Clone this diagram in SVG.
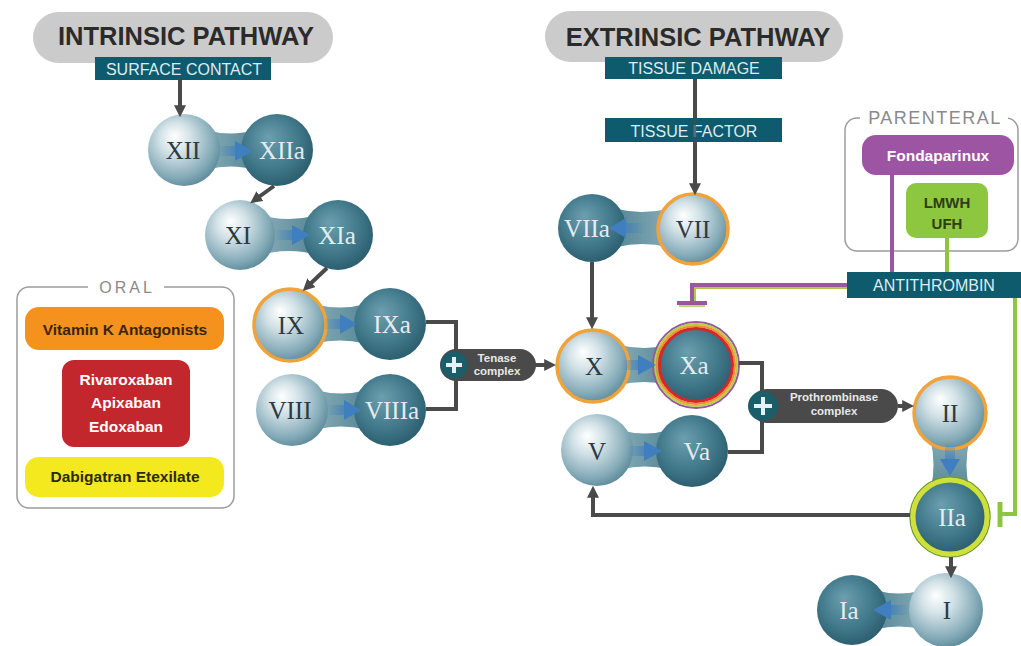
<svg xmlns="http://www.w3.org/2000/svg" width="1021" height="646" viewBox="0 0 1021 646">
<defs>
<radialGradient id="lb" cx="0.42" cy="0.4" r="0.62" fx="0.36" fy="0.3">
<stop offset="0" stop-color="#ffffff"/><stop offset="0.35" stop-color="#d3e2e7"/><stop offset="0.8" stop-color="#86acb9"/><stop offset="1" stop-color="#5f8d9c"/>
</radialGradient>
<radialGradient id="db" cx="0.45" cy="0.42" r="0.62" fx="0.38" fy="0.32">
<stop offset="0" stop-color="#6c9faf"/><stop offset="0.6" stop-color="#427a8b"/><stop offset="1" stop-color="#295b6c"/>
</radialGradient>
<linearGradient id="nLD" x1="0" y1="0" x2="1" y2="0"><stop offset="0" stop-color="#9dbcc6"/><stop offset="1" stop-color="#3f7687"/></linearGradient>
<linearGradient id="nDL" x1="0" y1="0" x2="1" y2="0"><stop offset="0" stop-color="#3f7687"/><stop offset="1" stop-color="#9dbcc6"/></linearGradient>
<linearGradient id="nTB" x1="0" y1="0" x2="0" y2="1"><stop offset="0" stop-color="#9dbcc6"/><stop offset="1" stop-color="#3f7687"/></linearGradient>
<linearGradient id="tR" x1="0" y1="0" x2="1" y2="0"><stop offset="0" stop-color="#3f7fbf" stop-opacity="0"/><stop offset="1" stop-color="#3f7fbf" stop-opacity="0.7"/></linearGradient>
<linearGradient id="tL" x1="0" y1="0" x2="1" y2="0"><stop offset="0" stop-color="#3f7fbf" stop-opacity="0.7"/><stop offset="1" stop-color="#3f7fbf" stop-opacity="0"/></linearGradient>
<linearGradient id="tD" x1="0" y1="0" x2="0" y2="1"><stop offset="0" stop-color="#3f7fbf" stop-opacity="0"/><stop offset="1" stop-color="#3f7fbf" stop-opacity="0.7"/></linearGradient>
<marker id="arr" viewBox="0 0 10 10" refX="4" refY="5" markerWidth="12" markerHeight="12" markerUnits="userSpaceOnUse" orient="auto">
<path d="M0,0 L10,5 L0,10 z" fill="#4a4a4a"/>
</marker>
<style>
.rn{font-family:"Liberation Serif",serif;font-size:25px;text-anchor:middle}
.lt{fill:#2c3b42}
.dk{fill:#e3ecef}
.tri{fill:#3f7fbf}
.conn{fill:none;stroke:#4a4a4a;stroke-width:4}
.box{fill:#0f5b6e}
.bt{font-family:"Liberation Sans",Arial,sans-serif;font-size:16px;fill:#dcecf1;text-anchor:middle}
.hd{font-family:"Liberation Sans",Arial,sans-serif;font-weight:bold;font-size:25.5px;fill:#2b2b2b;text-anchor:middle}
.pill{fill:#cbcbcb}
.ring{fill:none;stroke:#efa33a;stroke-width:3.5}
.drug{font-family:"Liberation Sans",Arial,sans-serif;font-weight:bold;font-size:15.5px;text-anchor:middle}
.cx{font-family:"Liberation Sans",Arial,sans-serif;font-weight:bold;font-size:11.5px;fill:#e8e8e8;text-anchor:middle}
.lab{font-family:"Liberation Sans",Arial,sans-serif;font-size:18px;fill:#8a8a8a;text-anchor:middle}
.frame{fill:none;stroke:#9c9c9c;stroke-width:1.5}
.cpill{fill:#4a4a4a}
.plusc{fill:#1c5d6a}
.plus{stroke:#e2f2f6;stroke-width:4;fill:none}
</style>
</defs>
<rect width="1021" height="646" fill="#ffffff"/>

<!-- headers -->
<g id="intrinsic">
<rect x="33" y="12" width="300" height="51" rx="25.5" class="pill"/>
<text x="186" y="45" class="hd">INTRINSIC PATHWAY</text>
</g>
<g id="extrinsic">
<rect x="545" y="11" width="298" height="51" rx="25.5" class="pill"/>
<text x="698" y="46" class="hd">EXTRINSIC PATHWAY</text>
</g>

<!-- legends -->
<g id="oral">
<rect x="17" y="287" width="217" height="221" rx="12" class="frame"/>
<rect x="88" y="278" width="76" height="18" fill="#ffffff"/>
<text x="127" y="293" class="lab" style="font-size:16px;letter-spacing:3px">ORAL</text>
<rect x="25" y="307" width="199" height="43" rx="14" fill="#f5921e"/>
<text x="125" y="335" class="drug" fill="#3a2508">Vitamin K Antagonists</text>
<rect x="62" y="360" width="128" height="87" rx="12" fill="#c1272d"/>
<text x="126" y="385" class="drug" fill="#ffffff">Rivaroxaban</text>
<text x="126" y="408" class="drug" fill="#ffffff">Apixaban</text>
<text x="126" y="432" class="drug" fill="#ffffff">Edoxaban</text>
<rect x="25" y="457" width="199" height="40" rx="14" fill="#f4e81f"/>
<text x="125" y="482" class="drug" fill="#2a2a10">Dabigatran Etexilate</text>
</g>

<g id="parenteral">
<rect x="845" y="118" width="173" height="133" rx="12" class="frame"/>
<rect x="860" y="106" width="148" height="22" fill="#ffffff"/>
<text x="935" y="124" class="lab" style="letter-spacing:1.5px">PARENTERAL</text>
</g>

<!-- nodes -->
<g id="n-XII">
<path d="M184,121 Q230.5,146 277,121 L277,179 Q230.5,154 184,179 Z" fill="url(#nLD)"/>
<circle cx="184" cy="150" r="36" fill="url(#lb)"/>
<circle cx="277" cy="150" r="36" fill="url(#db)"/>
<rect x="218" y="146" width="18" height="10" fill="url(#tR)"/>
<polygon points="235,141 253,151 235,161" class="tri"/>
<text x="183" y="159" class="rn lt">XII</text>
<text x="282" y="159" class="rn dk">XIIa</text>
</g>

<g id="n-XI">
<path d="M240,207 Q289,231 338,207 L338,263 Q289,239 240,263 Z" fill="url(#nLD)"/>
<circle cx="240" cy="235" r="35" fill="url(#lb)"/>
<circle cx="338" cy="235" r="35" fill="url(#db)"/>
<rect x="275" y="230" width="18" height="10" fill="url(#tR)"/>
<polygon points="292,225 310,235 292,245" class="tri"/>
<text x="238" y="244" class="rn lt">XI</text>
<text x="337" y="244" class="rn dk">XIa</text>
</g>

<g id="n-IX">
<path d="M290,295 Q340,320 390,295 L390,353 Q340,328 290,353 Z" fill="url(#nLD)"/>
<circle cx="390" cy="324" r="36" fill="url(#db)"/>
<circle cx="290" cy="325" r="36" fill="url(#lb)"/>
<circle cx="290" cy="325" r="36" class="ring"/>
<rect x="323" y="319" width="18" height="10" fill="url(#tR)"/>
<polygon points="340,314 357,324 340,334" class="tri"/>
<text x="291" y="334" class="rn lt">IX</text>
<text x="392" y="333" class="rn dk">IXa</text>
</g>

<g id="n-VIII">
<path d="M292,381 Q341,406 390,381 L390,439 Q341,414 292,439 Z" fill="url(#nLD)"/>
<circle cx="292" cy="410" r="36" fill="url(#lb)"/>
<circle cx="390" cy="410" r="36" fill="url(#db)"/>
<rect x="327" y="405" width="18" height="10" fill="url(#tR)"/>
<polygon points="344,400 361,410 344,420" class="tri"/>
<text x="290" y="419" class="rn lt">VIII</text>
<text x="392" y="419" class="rn dk">VIIIa</text>
</g>

<g id="n-VII">
<path d="M592,200 Q642,224 693,200 L693,256 Q642,232 592,256 Z" fill="url(#nDL)"/>
<circle cx="592" cy="228" r="34" fill="url(#db)"/>
<circle cx="693" cy="229" r="35" fill="url(#lb)"/>
<circle cx="693" cy="229" r="35" class="ring"/>
<rect x="625" y="223" width="20" height="10" fill="url(#tL)"/>
<polygon points="609,228 626,218 626,238" class="tri"/>
<text x="587" y="237" class="rn dk">VIIa</text>
<text x="693" y="238" class="rn lt">VII</text>
</g>

<g id="n-X">
<path d="M593,335 Q644,361 696,335 L696,395 Q644,369 593,395 Z" fill="url(#nLD)"/>
<circle cx="593" cy="366" r="36" fill="url(#lb)"/>
<circle cx="593" cy="366" r="36" class="ring"/>
<circle cx="696" cy="365" r="37" fill="url(#db)"/>
<circle cx="696" cy="365" r="43" fill="none" stroke="#9a56a0" stroke-width="2"/>
<circle cx="696" cy="365" r="41" fill="none" stroke="#b5cf40" stroke-width="2"/>
<circle cx="696" cy="365" r="39" fill="none" stroke="#f0902a" stroke-width="2"/>
<circle cx="696" cy="365" r="36.5" fill="none" stroke="#d8262a" stroke-width="3"/>
<rect x="621" y="360" width="18" height="10" fill="url(#tR)"/>
<polygon points="638,355 656,365 638,375" class="tri"/>
<text x="594" y="375" class="rn lt">X</text>
<text x="694" y="374" class="rn dk">Xa</text>
</g>

<g id="n-V">
<path d="M597,421 Q645,446 692,421 L692,479 Q645,454 597,479 Z" fill="url(#nLD)"/>
<circle cx="597" cy="450" r="36" fill="url(#lb)"/>
<circle cx="692" cy="451" r="36" fill="url(#db)"/>
<rect x="627" y="446" width="18" height="10" fill="url(#tR)"/>
<polygon points="644,441 662,451 644,461" class="tri"/>
<text x="597" y="460" class="rn lt">V</text>
<text x="697" y="460" class="rn dk">Va</text>
</g>

<g id="n-II">
<path d="M921,413 Q946,465 921,517 L979,517 Q954,465 979,413 Z" fill="url(#nTB)"/>
<circle cx="950" cy="413" r="36" fill="url(#lb)"/>
<circle cx="950" cy="413" r="36" class="ring"/>
<circle cx="950" cy="517" r="36" fill="url(#db)"/>
<circle cx="950" cy="517" r="40" fill="none" stroke="#6f9a2e" stroke-width="1.5"/>
<circle cx="950" cy="517" r="37" fill="none" stroke="#cfe03a" stroke-width="5"/>
<rect x="945" y="442" width="10" height="18" fill="url(#tD)"/>
<polygon points="940,459 960,459 950,476" class="tri"/>
<text x="950" y="422" class="rn lt">II</text>
<text x="952" y="526" class="rn dk">IIa</text>
</g>

<g id="n-I">
<path d="M852,581 Q899,606 946,581 L946,639 Q899,614 852,639 Z" fill="url(#nDL)"/>
<circle cx="852" cy="610" r="35" fill="url(#db)"/>
<circle cx="946" cy="610" r="37" fill="url(#lb)"/>
<rect x="891" y="605" width="18" height="10" fill="url(#tL)"/>
<polygon points="873,610 891,600 891,620" class="tri"/>
<text x="849" y="619" class="rn dk">Ia</text>
<text x="947" y="619" class="rn lt">I</text>
</g>

<!-- connectors -->
<g id="connectors">
<path d="M180,80 V110" class="conn" marker-end="url(#arr)"/>
<path d="M274,186 L256,199" class="conn" marker-end="url(#arr)"/>
<path d="M327,268 L308,286" class="conn" marker-end="url(#arr)"/>
<path d="M426,322 H456 V409 H426" class="conn"/>
<path d="M535,365 H549" class="conn" marker-end="url(#arr)"/>
<path d="M695,79 V188" class="conn" marker-end="url(#arr)"/>
<path d="M592,262 V322" class="conn" marker-end="url(#arr)"/>
<path d="M739,363 H762 V452 H728" class="conn"/>
<path d="M898,406 H907" class="conn" marker-end="url(#arr)"/>
<path d="M910,515 H593 V493" class="conn" marker-end="url(#arr)"/>
<path d="M951,557 V571" class="conn" marker-end="url(#arr)"/>
<!-- inhibition -->
<path d="M892,175 V272" fill="none" stroke="#9a56a0" stroke-width="4"/>
<path d="M947,238 V272" fill="none" stroke="#8cc63f" stroke-width="4"/>
<path d="M848,288 H695 V302" fill="none" stroke="#b0c84a" stroke-width="2"/>
<path d="M848,285 H692 V302" fill="none" stroke="#9a56a0" stroke-width="4"/>
<path d="M677,303 H707" fill="none" stroke="#9a56a0" stroke-width="4"/>
<path d="M679,306 H705" fill="none" stroke="#b0c84a" stroke-width="1.5"/>
<path d="M1015,298 V514 H1001" fill="none" stroke="#8cc63f" stroke-width="4"/>
<path d="M1000,502 V527" fill="none" stroke="#8cc63f" stroke-width="5"/>
</g>

<!-- label boxes -->
<g id="surface-contact">
<rect x="95" y="57" width="176" height="23" class="box"/>
<text x="184" y="75" class="bt">SURFACE CONTACT</text>
</g>
<g id="tissue-damage">
<rect x="605" y="57" width="177" height="22" class="box"/>
<text x="694" y="74" class="bt">TISSUE DAMAGE</text>
</g>
<g id="tissue-factor">
<rect x="605" y="118" width="177" height="24" class="box"/>
<text x="694" y="137" class="bt">TISSUE FACTOR</text>
<path d="M695,118 V142" stroke="#4a4a4a" stroke-width="1.5"/>
</g>
<g id="antithrombin">
<rect x="847" y="272" width="174" height="26" class="box"/>
<text x="934" y="291" class="bt">ANTITHROMBIN</text>
</g>
<g id="fondaparinux">
<rect x="862" y="135" width="152" height="40" rx="14" fill="#9d55a3"/>
<text x="938" y="161" class="drug" fill="#ffffff">Fondaparinux</text>
</g>
<g id="lmwh">
<rect x="906" y="183" width="82" height="55" rx="10" fill="#8dc63f"/>
<text x="947" y="208" class="drug" fill="#2e3d12" style="font-size:15px">LMWH</text>
<text x="947" y="229" class="drug" fill="#2e3d12" style="font-size:15px">UFH</text>
</g>
<g id="tenase">
<rect x="440" y="349" width="96" height="32" rx="16" class="cpill"/>
<circle cx="454" cy="365" r="13.5" class="plusc"/>
<path d="M446,365 H462 M454,357 V373" class="plus"/>
<text x="497" y="362" class="cx">Tenase</text>
<text x="497" y="375" class="cx">complex</text>
</g>
<g id="prothrombinase">
<rect x="750" y="389" width="148" height="34" rx="17" class="cpill"/>
<circle cx="763" cy="406" r="15" class="plusc"/>
<path d="M754,406 H772 M763,397 V415" class="plus"/>
<text x="834" y="401" class="cx">Prothrombinase</text>
<text x="834" y="415" class="cx">complex</text>
</g>
</svg>
